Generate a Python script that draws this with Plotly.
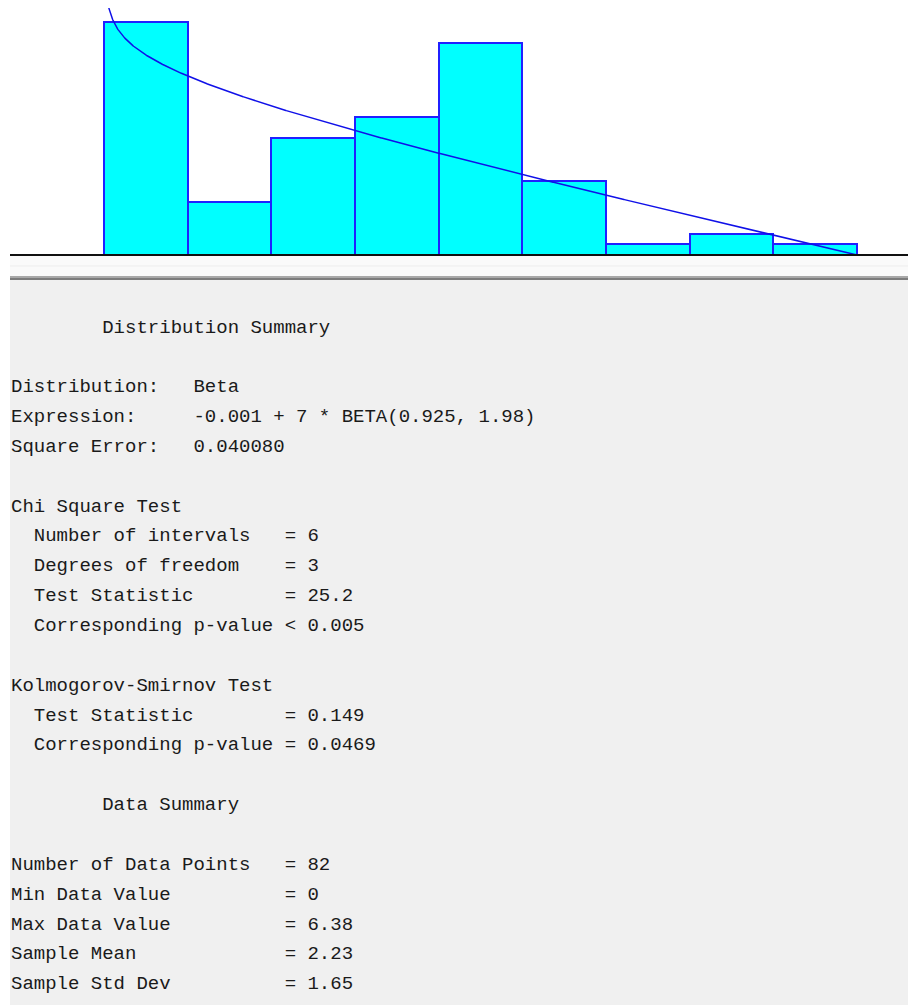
import math
import numpy as np
import plotly.graph_objects as go

# Histogram counts per interval (82 observations, 9 equal intervals)
counts = [22, 5, 11, 13, 20, 7, 1, 2, 1]
n_points = 82

# Fitted distribution: -0.001 + 7 * BETA(0.925, 1.98)
beta_offset = -0.001
beta_scale = 7.0
beta_a = 0.925
beta_b = 1.98

summary_lines = [
    "        Distribution Summary",
    "",
    "Distribution:   Beta",
    "Expression:     -0.001 + 7 * BETA(0.925, 1.98)",
    "Square Error:   0.040080",
    "",
    "Chi Square Test",
    "  Number of intervals   = 6",
    "  Degrees of freedom    = 3",
    "  Test Statistic        = 25.2",
    "  Corresponding p-value < 0.005",
    "",
    "Kolmogorov-Smirnov Test",
    "  Test Statistic        = 0.149",
    "  Corresponding p-value = 0.0469",
    "",
    "        Data Summary",
    "",
    "Number of Data Points   = 82",
    "Min Data Value          = 0",
    "Max Data Value          = 6.38",
    "Sample Mean             = 2.23",
    "Sample Std Dev          = 1.65",
]

W, H = 908, 1005
n_bins = len(counts)
bin_w = beta_scale / n_bins
centers = [beta_offset + bin_w * (i + 0.5) for i in range(n_bins)]

# Beta density expressed as expected count per interval
log_B = math.lgamma(beta_a) + math.lgamma(beta_b) - math.lgamma(beta_a + beta_b)
u = np.linspace(1e-5, 1.0, 1500)
pdf = np.exp((beta_a - 1) * np.log(u) + (beta_b - 1) * np.log(np.clip(1 - u, 1e-300, None)) - log_B)
pdf[-1] = 0.0
curve_x = beta_offset + beta_scale * u
curve_y = n_points * bin_w * pdf / beta_scale

fig = go.Figure()
fig.add_trace(go.Bar(
    x=centers, y=counts, width=bin_w,
    marker=dict(color="#00ffff", line=dict(color="#2020ff", width=2)),
    hoverinfo="skip",
))
fig.add_trace(go.Scatter(
    x=curve_x, y=curve_y, mode="lines",
    line=dict(color="#1010e8", width=1.5),
    hoverinfo="skip",
))

# pixel placement of the histogram area
px_left, px_right = 104, 857
per_px = beta_scale / (px_right - px_left)
x_lo = beta_offset - px_left * per_px
x_hi = beta_offset + beta_scale + (W - px_right) * per_px
base_px, top_px = 255, 8
y_top = (base_px - top_px) / 10.6

def py(p):
    return 1 - p / H

shapes = [
    # light strip under the baseline
    dict(type="rect", xref="paper", yref="paper", x0=10 / W, x1=1, y0=py(276), y1=py(256),
         fillcolor="#fafafa", line=dict(width=0), layer="below"),
    dict(type="line", xref="paper", yref="paper", x0=10 / W, x1=1, y0=py(266), y1=py(266),
         line=dict(color="#ededed", width=1)),
    # separator bar
    dict(type="rect", xref="paper", yref="paper", x0=10 / W, x1=1, y0=py(278), y1=py(276),
         fillcolor="#a8a8a8", line=dict(width=0)),
    dict(type="rect", xref="paper", yref="paper", x0=10 / W, x1=1, y0=py(280), y1=py(278),
         fillcolor="#7c7c7c", line=dict(width=0)),
    # text panel
    dict(type="rect", xref="paper", yref="paper", x0=10 / W, x1=1, y0=0, y1=py(280),
         fillcolor="#f0f0f0", line=dict(width=0), layer="below"),
    # baseline
    dict(type="line", xref="paper", yref="paper", x0=10 / W, x1=1, y0=py(255), y1=py(255),
         line=dict(color="#101010", width=2)),
]

annotations = []
for i, line in enumerate(summary_lines):
    if not line:
        continue
    annotations.append(dict(
        text=line.replace(" ", "\u00a0"),
        xref="paper", yref="paper", x=9 / W, y=py(327.5 + 29.85 * i),
        xanchor="left", yanchor="middle", showarrow=False, align="left",
        font=dict(family="Liberation Mono, Courier New, monospace", size=19, color="#1a1a1a"),
    ))

fig.update_layout(
    width=W, height=H,
    margin=dict(l=0, r=0, t=0, b=0),
    paper_bgcolor="white", plot_bgcolor="white",
    showlegend=False, bargap=0,
    xaxis=dict(range=[x_lo, x_hi], domain=[0, 1], visible=False, fixedrange=True),
    yaxis=dict(range=[0, y_top], domain=[py(base_px), py(top_px)], visible=False, fixedrange=True),
    shapes=shapes, annotations=annotations,
)

fig.write_html("out.html")
